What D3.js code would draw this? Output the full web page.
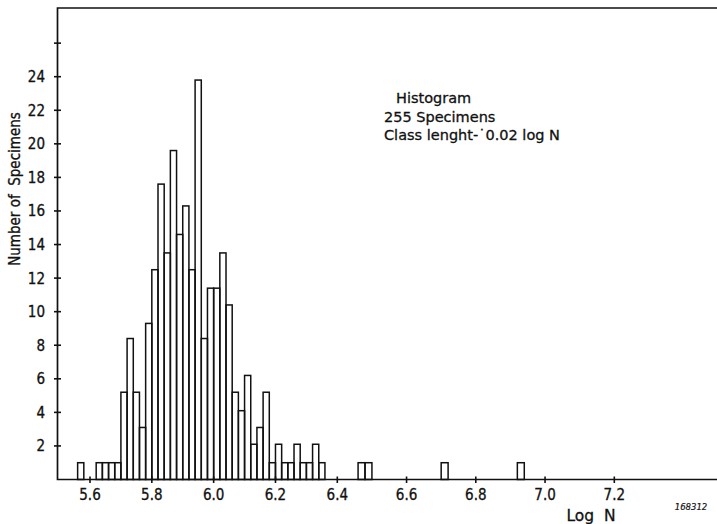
<!DOCTYPE html>
<html>
<head>
<meta charset="utf-8">
<script src="https://cdn.jsdelivr.net/npm/d3@7"></script>
<style>
  html, body { margin: 0; padding: 0; background: #fff; }
  svg { display: block; }
  text { fill: #111; stroke: #111; stroke-width: 0.3px; font-family: "DejaVu Sans", sans-serif; }
</style>
</head>
<body>
<svg id="chart" width="717" height="524"></svg>
<script>
// Class start (log N) of each occupied class, class length 0.02
const binStart = [
  5.56, 5.62, 5.64, 5.66, 5.68,
  5.70, 5.72, 5.74, 5.76, 5.78, 5.80, 5.82, 5.84, 5.86, 5.88,
  5.90, 5.92, 5.94, 5.96, 5.98, 6.00, 6.02, 6.04, 6.06, 6.08,
  6.10, 6.12, 6.14, 6.16, 6.18, 6.20, 6.22, 6.24, 6.26, 6.28,
  6.30, 6.32, 6.34,
  6.46, 6.48, 6.70, 6.92
];
// Number of specimens in each class
const counts = [
  1.0, 1.0, 1.0, 1.0, 1.0,
  5.2, 8.4, 5.2, 3.1, 9.3, 12.5, 17.6, 13.5, 19.6, 14.6,
  16.3, 12.5, 23.8, 8.4, 11.4, 11.4, 13.5, 10.4, 5.2, 4.1,
  6.2, 2.1, 3.1, 5.2, 1.0, 2.1, 1.0, 1.0, 2.1, 1.0,
  1.0, 2.1, 1.0,
  1.0, 1.0, 1.0, 1.0
];
const classLength = 0.02;
const xTicks = [5.6, 5.8, 6.0, 6.2, 6.4, 6.6, 6.8, 7.0, 7.2];
const yTicks = [2, 4, 6, 8, 10, 12, 14, 16, 18, 20, 22, 24, 26];
const yTickLabels = ["2", "4", "6", "8", "10", "12", "14", "16", "18", "20", "22", "24", ""];
const infoLines = ["Histogram", "255 Specimens", "Class lenght-\u02D90.02 log N"];

const svg = d3.select("#chart");
const frame = { left: 57.5, top: 8, right: 717, bottom: 479.5 };
const condensed = "'DejaVu Sans Condensed', 'DejaVu Sans', sans-serif";

// The log N axis is drawn with a slightly wider spacing beyond 6.4
const x = d3.scaleLinear()
  .domain([5.6, 6.4, 7.2])
  .range([90, 337.3, 614.3]);
const y = d3.scaleLinear()
  .domain([0, 24])
  .range([frame.bottom, 76.7]);

const ink = "#111";

// bars
svg.append("g")
  .selectAll("rect")
  .data(binStart.map((b, i) => ({ b, v: counts[i] })))
  .join("rect")
  .attr("x", d => x(d.b))
  .attr("width", d => x(d.b + classLength) - x(d.b))
  .attr("y", d => y(d.v))
  .attr("height", d => y(0) - y(d.v))
  .attr("fill", "none")
  .attr("stroke", ink)
  .attr("stroke-width", 1.5);

// frame: left axis, top rule, base line
svg.append("path")
  .attr("d", `M${frame.right},${frame.top}H${frame.left}V${frame.bottom}H${frame.right}`)
  .attr("fill", "none")
  .attr("stroke", ink)
  .attr("stroke-width", 1.7);

// x ticks crossing the base line
const xg = svg.append("g");
xg.selectAll("line")
  .data(xTicks)
  .join("line")
  .attr("x1", d => x(d)).attr("x2", d => x(d))
  .attr("y1", frame.bottom - 3).attr("y2", frame.bottom + 3.5)
  .attr("stroke", ink).attr("stroke-width", 1.6);
xg.selectAll("text")
  .data(xTicks)
  .join("text")
  .attr("x", d => x(d))
  .attr("y", 500)
  .attr("text-anchor", "middle")
  .style("font-family", condensed)
  .style("font-size", "15px")
  .text(d => d3.format(".1f")(d));

// y ticks crossing the left axis
const yg = svg.append("g");
yg.selectAll("line")
  .data(yTicks)
  .join("line")
  .attr("x1", frame.left - 3.5).attr("x2", frame.left + 3.5)
  .attr("y1", d => y(d)).attr("y2", d => y(d))
  .attr("stroke", ink).attr("stroke-width", 1.6);
yg.selectAll("text")
  .data(yTicks)
  .join("text")
  .attr("x", 45)
  .attr("y", d => y(d))
  .attr("dy", "0.36em")
  .attr("text-anchor", "end")
  .style("font-family", condensed)
  .style("font-size", "15px")
  .text((d, i) => yTickLabels[i]);

// axis titles
svg.append("text")
  .attr("x", 591).attr("y", 521)
  .attr("text-anchor", "middle")
  .attr("xml:space", "preserve")
  .style("font-size", "15.5px")
  .text("Log  N");

svg.append("text")
  .attr("transform", "translate(20,189) rotate(-90)")
  .attr("text-anchor", "middle")
  .attr("xml:space", "preserve")
  .style("font-family", condensed)
  .style("font-size", "15px")
  .text("Number of  Specimens");

// annotation block
svg.append("g")
  .selectAll("text")
  .data(infoLines)
  .join("text")
  .attr("x", (d, i) => i === 0 ? 396 : 384)
  .attr("y", (d, i) => 103 + i * 18.5)
  .style("font-size", "14.5px")
  .text(d => d);

// drawing number
svg.append("text")
  .attr("x", 691).attr("y", 510)
  .attr("text-anchor", "middle")
  .style("font-size", "8.5px")
  .style("font-style", "italic")
  .style("stroke-width", "0.2px")
  .text("168312");
</script>
</body>
</html>
